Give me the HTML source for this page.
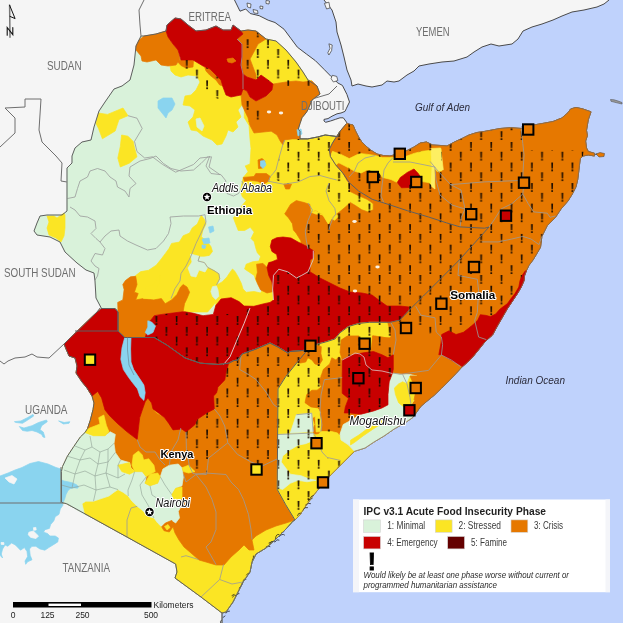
<!DOCTYPE html>
<html><head><meta charset="utf-8"><title>IPC v3.1 Acute Food Insecurity Phase - East Africa</title>
<style>
html,body{margin:0;padding:0;background:#bfd2fc;}
body{width:623px;height:623px;overflow:hidden;font-family:"Liberation Sans",sans-serif;}
svg{display:block}
</style></head><body>
<svg width="623" height="623" viewBox="0 0 623 623" font-family="Liberation Sans, sans-serif">
<rect width="623" height="623" fill="#bfd2fc"/>
<polygon fill="#f5f5f5" points="-5,-5 234,-5 234.5,0 240,11.2 245.7,9 250.2,13.5 259.2,15.7 268.2,20.2 275,22.5 284,29.2 290.7,38.2 297.4,47.2 306.4,54 315.4,60.7 324.4,69.7 331,76.4 337.9,83 342.4,85.4 346.9,94.4 349.5,102 348,105 346.5,108.2 345,111.4 341,113 337,113.8 332,116.2 328,118.6 324,119.4 324,121 325.7,122.3 330.5,121 335.3,119.4 340,117.8 343.3,117.8 345.7,121 347.4,123.5 347.4,123.5 349.8,124.3 353,125 355.4,130.7 358.6,137 361.8,142 365.8,146 370.6,150 377,154 383.5,155.6 390,156 394.7,154.8 405.6,151.3 414,147 420.2,143 426.5,142 432.7,145 441,145.5 447,146 454.4,142 462,138.5 469,135 477,132.5 484.6,131.4 500,128.5 510.6,127.7 522,128.5 533.5,125 544,123.2 553,121.5 561.8,118 568,112.7 570.6,109 576,107.4 583,109 591,111.8 588.3,119.7 586.5,130.3 587.4,135.6 585.6,141 586.5,148 588.3,151.5 594.5,153.3 594.5,156 588.3,155 583,156 580.3,158.6 579.4,165.6 578.6,172.7 577.7,179.7 576,186.8 572.4,193.9 568,201 561,209 555.5,217.3 547.3,225.5 541.9,236.4 540.5,247.3 536,255 533,260 529,265.3 526.5,270.4 524.6,275.5 524,280.7 521.3,287 517.5,293.5 512.4,301.2 507.2,309 502,318 497.6,325.6 492.5,335 485,341.7 479.2,349 473.5,356 467.7,362 462,367 456,373.5 449,380.7 441.7,388 434.5,395 427.2,401 420.8,406.4 413,417.3 403.8,423.6 394.4,428.8 384,436 373.5,442.3 365,448 354.4,451.3 343.7,462 331.5,474.2 320.8,486.4 313.2,495.5 305.6,506.2 299.5,515.4 295,520 293,521 286,529 276,539 266,548 256,554 252,562 250,572 243,582 238,592 233,602 226,612 222,613 222,623 222,630 -5,630" stroke="#4a4a4a" stroke-width="1"/>
<polygon fill="#f5f5f5" points="320,-5 324,0 332,10 336,22 337,32 341,45 344,57 347,70 351,80 352,86 358,84 366,86 372,87 382,85 387,81 394,82 399,81 407,75 414,71 419,66 429,64 442,62 454,61 467,57 474,52 482,47 491,44 499,46 512,44 518,39 523,31 532,27 542,24 553,20 562,16 572,12 584,10 597,7 604,4 609,0 612,-5" stroke="#4a4a4a" stroke-width="1"/>
<polygon fill="#8ad4ef" points="-3,477 0,476 8,473 15,470 22,467.5 30,463.5 38.5,461.5 48,464 56,467.5 61,469 61,482 67,484 75,486 80,482 85,479 88,483 80,488 72,492 67,499 62,500 62.9,503.3 62.9,505.3 60.3,509 59,514.3 55.2,516.8 53.9,520.7 50.7,524.5 49.4,528.4 44.9,529.7 43.6,532.2 47.5,533.5 50,536 55.2,536 58.4,538 57.8,541.9 53.9,544.4 48.8,547.6 44.9,550.2 39.8,548.9 35.9,546.3 32,546.3 29.5,548.9 30.2,555.3 32,559.8 27.6,561.8 25.7,564.3 25,561 27.6,556.6 27,551.5 24.4,547.6 20.5,550.2 15.4,545 11.6,543 7.7,546.3 5.1,545 2.6,549 1.3,554 2.6,558 0,555.3 -3,555" stroke="#8ad4ef" stroke-width="0.7"/>
<polygon fill="#8ad4ef" points="19.3,426.5 24,428 32,425.7 38.5,422.5 46.5,420 47.3,421.7 41.7,425.7 40,429.7 43.3,432 45,437.5 43,437 41.7,434.5 37,432 32,430.5 27.3,431.3 22.5,430.5" stroke="#8ad4ef" stroke-width="0.7"/>
<polygon fill="#8ad4ef" points="14.4,421.7 20.9,420.9 27.3,417.7 33,414.4 33.7,416 28.9,419.3 22.5,423.3 16,422.5" stroke="#8ad4ef" stroke-width="0.7"/>
<polygon fill="#8ad4ef" points="58.6,420.9 64.2,422.5 69.8,421.7 69,423.3 63.4,424" stroke="#8ad4ef" stroke-width="0.7"/>
<polygon fill="#f5f5f5" points="5,478 12,475.5 17,479 14,484 9,482" stroke="#f5f5f5" stroke-width="0.7"/>
<polygon fill="#f5f5f5" points="28.9,532.2 33.4,531 38.5,536 36,538.6 30.8,537.4 28.2,534.8" stroke="#f5f5f5" stroke-width="0.7"/>
<polygon fill="#f5f5f5" points="33.4,527.7 35.9,527.4 36.2,530 33.7,530.3" stroke="#f5f5f5" stroke-width="0.7"/>
<polygon fill="#f5f5f5" points="1,542.5 3.8,542.5 4,544.5 1.3,544.5" stroke="#f5f5f5" stroke-width="0.7"/>
<polyline fill="none" stroke="#6e6e6e" stroke-width="1" stroke-linejoin="round" points="145,-4 144,0 139,10 140,25 141,36" />
<polyline fill="none" stroke="#6e6e6e" stroke-width="1" stroke-linejoin="round" points="312,99 329,94 337,86" />
<polyline fill="none" stroke="#6e6e6e" stroke-width="1" stroke-linejoin="round" points="-4,151 0,147 15,133 15,118 5,108 25,107 25,99 41,99 39,130 42,142 50,150 56,156 62,163 61,181 67,182" />
<polyline fill="none" stroke="#6e6e6e" stroke-width="1" stroke-linejoin="round" points="-4,359 0,361 4,364 8,361 15,358 25,357 32,354 37,357 49,358 64,344 97,312 100,308" />
<polyline fill="none" stroke="#6e6e6e" stroke-width="1" stroke-linejoin="round" points="-4,503 62,503" />
<polyline fill="none" stroke="#6e6e6e" stroke-width="1" stroke-linejoin="round" points="61,467 61,503" />
<polyline fill="none" stroke="#6e6e6e" stroke-width="1" stroke-linejoin="round" points="62,503 66.6,503.7 127,537 175.7,564 177,572 175,578 201,597 222,613" />
<polygon fill="#d9f2da" points="141,36 144,36 156,34 166,31 167,25 175,18 181,19 188,25 196,31 206,30 216,26 223,30 231,30 233,25 241,31 248,30 256,31 266,39 276,41 286,50 296,62 303,72 308,80 317,86 320,94 312,100 307.8,110 306,112.9 302,117.7 300,123.5 298.2,129.3 300,131.2 300,138.9 307.8,138.9 317.5,137 325.2,135 333,136 337.7,136.7 339.8,131.5 332.5,143 329.4,149.2 330.4,156.5 335.7,164.9 343,173.2 349.2,182.6 358.6,191 372.2,199.3 389,204.6 407.7,210.8 428.6,217 446.4,222.8 460,226.9 484.6,228.2 489,227 471,247 459.3,260 441.4,278 423.4,296 409.3,310 404.8,315 399.6,320.2 390.2,322.3 379.8,322.3 369.3,322.3 358.9,323.4 348.5,326.5 340,332.7 334.9,339 325.5,342 317,344.2 308.8,349.4 302.5,350.5 290,351.5 288,353 278,347 270,343 256,349 242,354 238,360 233.8,360.6 228.7,363.2 218.4,364.5 200.4,363.2 185,358 167,345.2 154.2,337.5 124.7,337.5 118,331 118,312 115,308.5 101.5,308.5 96,298 95,281 94,273 86,270 77,263 65,252 60,242 50,237 37,235 34,231 37,223 40,216 47,215 62,215 67,211 67,182 67,168 72,163 72,156 75,148 82,142 91,140 94,127 99,111 105,102 114,89 122,86 130,80 134,65 136,46" stroke="#d9f2da" stroke-width="0.7"/>
<polygon fill="#fbe524" points="170,66 176,65 181,60 193,60 203,66 210,69 216,75 221,80 223,87 226,95 231,97 241,95 242,105 238,110 241,117 236,122 238,127 233,132 228,130 226,136 222,144 217,145 212,140 203,136 197,131 191,130 188,122 193,117 195,110 190,106 183,105 185,96 191,95 196,90 200,82 197,76 188,75 181,77 175,75 171,71" stroke="#fbe524" stroke-width="0.7"/>
<polygon fill="#fbe524" points="98.5,113 107.5,114.4 123,108 128,115.7 119,119.5 115.2,131 102.4,138.8 98.5,128.5 96,123.4" stroke="#fbe524" stroke-width="0.7"/>
<polygon fill="#fbe524" points="121.6,135 128,136.2 133.2,141.4 134.5,147.8 137,156.8 129.3,163.2 120.3,167 117.8,158 120.3,146.5" stroke="#fbe524" stroke-width="0.7"/>
<polygon fill="#d9f2da" points="196,119 200,118 204,126 202,131 197,127" stroke="#d9f2da" stroke-width="0.7"/>
<polygon fill="#fbe524" points="47,216 54,216 57,218 64,213 65,215 65,228 64,236 61,242 56,238 49,235 47,228 49,222" stroke="#fbe524" stroke-width="0.7"/>
<polygon fill="#fbe524" points="266,39 276,41 286,50 296,62 303,72 308,80 312,81 303,82 296,81 286,82 273,84 268,80 261,75 256,80 256,75 253,67 250,59 255,50 258,44" stroke="#fbe524" stroke-width="0.7"/>
<polygon fill="#fbe524" points="244.3,110 248,117.7 250,125.4 254,133 263.5,132 271.2,131.2 277,135 280,140.8 282.8,144.7 284.7,139.9 292.4,138.9 300,138.9 307.8,138.9 317.5,137 325.2,135 333,136 337.7,136.7 339.8,131.5 332.5,143 329.4,149.2 330.4,156.5 335.7,164.9 343,173.2 347,180.5 350.3,184.7 349.2,191 357.6,195.2 367,199.3 373.2,203.5 373.2,209.8 368,211.9 361.8,209.8 355.5,205.6 350.3,202.5 346,207.7 345,212.9 338.8,216 334.6,220.2 329.4,224.4 324.2,216 320,214 312,212 312,320 215.7,310 215.7,299.5 212.5,296.3 210.9,291.5 212.5,286.7 216.5,285 222.1,281.9 226.9,277 230.1,272.2 232.5,269 235,271.4 238.2,277 241.4,283.5 243,289 246.2,292.3 254.2,291.5 260.6,293 262.2,289.9 259,285 255.8,280.3 254.2,275.4 249.4,272.2 244.6,269 246.2,264.2 252.6,261.8 259,261 260.6,256.2 257.4,253 255.8,248.2 254.2,241.7 251,238.5 254.2,232.1 250.2,227.3 244.6,230.5 238.2,230.5 235.7,224 233.3,217.7 236.5,215.2 241.4,206.4 246.2,200.6 242.3,196.7 240.4,191 242.3,181.3 243.3,177.4 248,171.7 245.2,165.9 250,164 251,148.5 250,138.9 249,125.4 244.3,117.7" stroke="#fbe524" stroke-width="0.7"/>
<polygon fill="#fbe524" points="135.7,275.5 140.8,271.6 148.5,270.3 156.2,265.2 161.4,258.8 165.2,253.7 169,248.5 171.6,243.4 179.3,242.1 183.2,235.7 189.6,233.1 192.2,228 197.3,224.1 201.2,215.2 204.4,219.3 206,224 202.8,230.5 201.2,237 206,240 210.9,246.5 212.5,251.4 209.3,255.4 204.4,256.2 199.6,256.2 198,261 204.4,262.6 207.7,267.4 214,270.6 218.9,273.8 219.7,278.7 216.5,285 212.5,286.7 210.9,291.5 212.5,296.3 215.7,299.5 217.9,299.9 207.6,312 130,312 125,290" stroke="#fbe524" stroke-width="0.7"/>
<polygon fill="#d9f2da" points="190.5,254 199,256.2 198,261 204.4,262.6 207.7,267.4 205,272 199,270 196,277 191,276 188,268 192,262" stroke="#d9f2da" stroke-width="0.7"/>
<polygon fill="#e67800" points="136,46 139,40 144,36 156,34 166,31 168,37 173,44 178,50 180,59 176,65 168,66 161,65 156,60 147,62 142,61 141,56 136,50" stroke="#e67800" stroke-width="0.7"/>
<polygon fill="#e67800" points="273,84 286,82 296,81 303,82 312,81 317,86 320,94 312,100 307.8,110 306,112.9 302,117.7 300,123.5 298.2,129.3 300,131.2 300,138.9 292.4,138.9 284.7,139.9 282.8,144.7 280,140.8 277,135 271.2,131.2 263.5,132 254,133 250,125.4 248,117.7 244.3,110 242,105 241,95 243,89 247,91 250,97 256,101 266,96 272,90" stroke="#e67800" stroke-width="0.7"/>
<polygon fill="#e67800" points="241,31 248,30 256,31 266,39 258,44 255,50 250,59 253,67 256,75 256,80 247,77 243,74 241,65 242,57 242,44 237,39 243,34" stroke="#e67800" stroke-width="0.7"/>
<polygon fill="#e67800" points="256.6,264.2 263,263.4 267,267.4 268.7,275.4 271.9,281.9 273.5,291.5 267,293 260.6,289.9 257.4,283.5 255.8,278.7 257.4,272.2" stroke="#e67800" stroke-width="0.7"/>
<polygon fill="#e67800" points="243.3,177.4 254,176.5 255.8,173.6 266.4,173.6 270.3,176.5 268.4,181.3 263.5,184.2 257.8,181.3 250,180.3 244.3,181.3" stroke="#e67800" stroke-width="0.7"/>
<polygon fill="#e67800" points="283.8,184.2 291.5,184.2 289.5,189 285.7,189" stroke="#e67800" stroke-width="0.7"/>
<polygon fill="#e67800" points="258,160 262,158.5 265,161 263,168 258.5,168.5" stroke="#e67800" stroke-width="0.7"/>
<polygon fill="#8ad4ef" points="260.5,161 264.5,160.5 266,165 263,168.5 260.5,166" stroke="#8ad4ef" stroke-width="0.7"/>
<polygon fill="#e67800" points="125.4,280.6 130.5,276.8 135.7,276.3 137,284.5 134.4,292.2 138.2,293.5 135.7,299.9 143.4,298.6 153.7,299.9 161.4,298.6 165.2,303.7 171.6,299.9 176.8,294.7 180.6,287 183.2,284.5 187,287 189.6,292.2 187,298.6 184.5,303.7 183.2,311.4 172.2,313.1 161.9,314.4 154.2,315.7 150.3,320.8 147.8,328.5 145.2,337.5 124.7,337.5 118,331 118,312 117.7,302.4 122.8,299.9 124.1,289.6 122.8,284.5" stroke="#e67800" stroke-width="0.7"/>
<polygon fill="#fbe524" points="143.4,298.6 146,287 153.7,284.5 157.5,276.8 160,275.5 160,282 156.2,289.6 155,298.6" stroke="#fbe524" stroke-width="0.7"/>
<polygon fill="#e67800" points="284.7,214 290.5,204.4 296.3,200.6 304,202.5 309.8,204.4 310.7,212 316,211 323,215.3 328.3,224 331.8,218 336.2,214.4 340.6,211 346,206.5 350.3,202.5 355.5,205.6 361.8,209.8 368,211.9 373.2,209.8 373.2,203.5 372.2,199.3 389,204.6 407.7,210.8 428.6,217 446.4,222.8 460,226.9 484.6,228.2 489,227 471,247 459.3,260 441.4,278 423.4,296 409.3,310 380,312 312,290 300,250 301,241 296,233 293.4,230 292.4,223.7 288.6,217.9" stroke="#e67800" stroke-width="0.7"/>
<polygon fill="#e67800" points="343,173.2 349.2,182.6 358.6,191 372.2,199.3 373.2,203.5 367,199.3 357.6,195.2 349.2,191 350.3,184.7 347,180.5" stroke="#e67800" stroke-width="0.7"/>
<polygon fill="#e67800" points="177,61 181,59.5 193.5,60.5 193,67 186,68 181,65.5" stroke="#e67800" stroke-width="0.7"/>
<polygon fill="#e67800" points="204.7,67 209.7,68.7 216,75 221.5,80 223.5,86 219.7,85 216,80 209.7,75 206,71" stroke="#e67800" stroke-width="0.7"/>
<polygon fill="#d9f2da" points="212.5,286.7 210.9,291.5 212.5,296.3 215.7,299.5 218.9,296.3 218,290 216.5,286" stroke="#d9f2da" stroke-width="0.7"/>
<polygon fill="#fbe524" points="310.7,212 316,211 323,215.3 328.3,224 331.8,218 336.2,214.4 338.8,216 334.6,220.2 330,217.9 325.2,215 315.6,214" stroke="#fbe524" stroke-width="0.7"/>
<polygon fill="#c80000" points="166,31 167,25 175,18 181,19 188,25 196,31 206,30 216,26 223,30 231,30 233,25 241,31 243,34 237,39 242,44 242,57 241,65 243,74 247,77 256,80 261,75 268,80 273,84 272,90 266,96 256,101 250,97 247,91 243,89 241,95 231,97 226,95 223,87 221,80 216,75 210,69 203,66 193,60 181,60 178,50 173,44 168,37" stroke="#c80000" stroke-width="0.7"/>
<polygon fill="#e67800" points="227,59 233,58 236,61 232,63 228,62" stroke="#e67800" stroke-width="0.7"/>
<polygon fill="#c80000" points="270.3,246.5 271.9,240 276.7,237.7 283,237 291,238 298,242 306,246 314,251 313,258 310,260 310,272 312,273 320,278 330,283 340,288 350,292 362,293 372,295 380,301 387,306 400,306 409,307 407,315 404.8,315 399.6,320.2 390.2,322.3 379.8,322.3 369.3,322.3 358.9,323.4 348.5,326.5 340,332.7 334.9,339 325.5,342 317,344.2 308.8,349.4 302.5,350.5 290,351.5 288,353 278,347 270,343 256,349 242,354 238,360 233.8,360.6 228.7,363.2 218.4,364.5 200.4,363.2 185,358 167,345.2 154.2,337.5 145.2,337.5 147.8,328.5 150.3,320.8 154.2,315.7 161.9,314.4 172.2,313.1 182.4,311.8 185,311.8 192.7,313.1 203,315.7 213.3,314.4 215.8,305.4 221,299 231.2,297.7 239,301.6 244.1,306 253.8,306.3 264.1,303.7 270,302.4 273.5,300 273.5,291.5 271.9,281.9 268.7,275.4 267,267.4 268.7,262.6 271.9,261.8 277.5,259.4 276.7,254.6 271.9,251.4" stroke="#c80000" stroke-width="0.7"/>
<polygon fill="#8ad4ef" points="158,101 163,98 172,98 175,104 172,110 168,113 166,118 162,113 158,108" stroke="#8ad4ef" stroke-width="0.7"/>
<polygon fill="#8ad4ef" points="208.5,227 213,226 214,231 210,233" stroke="#8ad4ef" stroke-width="0.7"/>
<polygon fill="#8ad4ef" points="202,239 209,238 210,243 204,244" stroke="#8ad4ef" stroke-width="0.7"/>
<polygon fill="#8ad4ef" points="202,245 206,245.5 205,248.5 202,248" stroke="#8ad4ef" stroke-width="0.7"/>
<polygon fill="#8ad4ef" points="147.8,320.8 151.6,322 155.5,326 153,332.5 147.8,335 145.2,332.5 147.8,327" stroke="#8ad4ef" stroke-width="0.7"/>
<polygon fill="#8ad4ef" points="297,129.5 301,129 302,134 298,136" stroke="#8ad4ef" stroke-width="0.7"/>
<polygon fill="#fbe524" points="101.5,308.5 115,308.5 118,312 118,331 124.7,337.5 154.2,337.5 167,345.2 185,358 200.4,363.2 218.4,364.5 228.7,363.2 233.8,360.6 238,360 242,354 256,349 270,343 278,347 288,353 290,351.5 302.5,350.5 305.6,352.2 298,361.3 285.7,376.6 278,388.8 277.2,489.4 285.7,504.7 295,520 293,521 286,529 276,539 266,548 256,554 252,562 250,572 243,582 238,592 233,602 226,612 222,613 201,597 175,578 177,572 175.7,564 127,537 66.6,503.7 61.4,502.4 61.4,471.6 62.5,466.5 67.4,456.2 73.8,446.5 80.3,437 85,432.5 87.5,428.5 90.2,420.5 93,409.6 94,403 92,396 87,388 82,382 76,373 77,366 75,358 69,356 66,349 64,344 97,312" stroke="#fbe524" stroke-width="0.7"/>
<polygon fill="#e67800" points="93,409.6 94,403 92,396 87,388 100,380 112,400 110.2,416.4 118,424 127,431.8 137.2,439.5 138.5,428 139.7,417.7 142.3,410 145.2,401.7 147.8,397.9 151.6,403 154.2,410.7 157.7,413.9 165.4,417.7 173,422.8 180.8,428 188.5,426.7 195,422.8 201.4,415 204,410 210.7,403 213.3,395.3 218.4,387.6 224.8,379.9 226.1,372.2 228.7,363.2 233.8,360.6 238,360 242,354 256,349 270,343 278,347 288,353 290,351.5 302.5,350.5 305.6,352.2 298,361.3 285.7,376.6 278,388.8 277.2,489.4 285.7,504.7 295,520 286,523 276,526 266,530 256,536 252,540 254,550 249,550 244,545 239,550 231,557 224,565 216,565 206,562 199,560 191,553 184,547 179,540 175,533 173,526.8 160,500 140,480 115,460 100,437 89.7,428 87.5,428.5 90.2,420.5" stroke="#e67800" stroke-width="0.7"/>
<polygon fill="#d9f2da" points="61.4,471.6 62.5,466.5 67.4,456.2 73.8,446.5 80.3,437 85,432.5 93.5,435.7 105,435.7 110.2,431.8 115.3,434.4 114,443.4 115.3,452.4 120.5,460 129.5,462.6 130.8,467.8 134.6,471.6 142.3,471.6 146.2,476.8 144.9,483.2 150,485.8 157.7,483.2 160.3,476.8 162.9,469 169.3,465.2 178.3,464 182,467.8 183.4,476.8 182,485.8 175.7,488.3 171.8,494.7 174.4,499.9 180.8,498.6 182,505 178.3,511.4 179.5,517.9 175.7,523 171.8,520.4 165.4,523 161.6,526.8 157.7,523 153.9,517.9 148.7,516.6 142.3,510.2 137.2,506.3 132,501.2 128.2,496 123,492.2 118,489.6 114,492.2 109,496 101.2,498.6 93.5,501.2 85.8,501.2 82,503.7 84.5,514.5 66.6,503.7 61.4,502.4" stroke="#d9f2da" stroke-width="0.7"/>
<polygon fill="#fbe524" points="133.3,455 138.5,451 142.3,455 143.6,460 148.7,458.8 153.9,465.2 155.2,471.6 150,474.2 146.2,476.8 142.3,471.6 134.6,471.6 132,465.2" stroke="#fbe524" stroke-width="0.7"/>
<polygon fill="#fbe524" points="118,465.2 129.5,462.6 130.8,467.8 134.6,471.6 129.5,474.2 121.8,471.6" stroke="#fbe524" stroke-width="0.7"/>
<polygon fill="#fbe524" points="144.9,483.2 150,474.2 157.7,473 160.3,476.8 157.7,483.2 150,485.8" stroke="#fbe524" stroke-width="0.7"/>
<polygon fill="#fbe524" points="182,467.8 188.5,465.2 195,471.6 188.5,473 183.4,471.6" stroke="#fbe524" stroke-width="0.7"/>
<polygon fill="#fbe524" points="171.8,494.7 175.7,488.3 182,487 182,498.6 174.4,499.9" stroke="#fbe524" stroke-width="0.7"/>
<polygon fill="#fbe524" points="89.7,428 100,424 98.7,417.7 103.8,415 106.4,425.4 109,431.8 105,435.7 93.5,435.7 85,432.5" stroke="#fbe524" stroke-width="0.7"/>
<polygon fill="#e67800" points="161.6,526.8 165.4,523 171.8,520.4 173,526.8 169.3,532 164,530.7" stroke="#e67800" stroke-width="0.7"/>
<polygon fill="#fbe524" points="164.5,526.5 168,524.5 170,527.5 167,530" stroke="#fbe524" stroke-width="0.7"/>
<polygon fill="#8ad4ef" points="61.7,480 64,481 69,482 72.8,483 76.6,484.8 78.5,486.7 77.6,488.2 73.7,487.7 70,488.7 68,490.6 66,494.5 64.6,499.3 63,502.6 61.7,502.6" stroke="#8ad4ef" stroke-width="0.7"/>
<polygon fill="#c80000" points="101.5,308.5 115,308.5 118,312 118,331 124.7,337.5 154.2,337.5 167,345.2 185,358 200.4,363.2 218.4,364.5 228.7,363.2 226.1,372.2 224.8,379.9 218,387.2 216.5,393 213.6,395.9 214.3,408.9 206.4,413.2 197.7,419 194.8,424.8 186,432 181.8,429 173,429.9 168.8,423.4 164.5,417.6 158.7,413.2 153,408.9 151.6,403 147.8,397.9 145.2,401.7 142.3,410 139.7,417.7 138.5,428 137.2,439.5 127,431.8 118,424 110.2,416.4 105,410 101.6,397.9 97.7,391.4 92,396 87,388 82,382 76,373 77,366 75,358 69,356 66,349 64,344 97,312" stroke="#c80000" stroke-width="0.7"/>
<polygon fill="#8ad4ef" points="124.7,337.5 131,337.5 130.6,349 131,362 133.7,369.6 138.8,377.3 143.9,385 145.2,392.7 143.9,400.4 140,396.6 137.5,388.9 132.4,382.5 128.5,377.3 123.4,369.6 120.8,359.3 122,347.8" stroke="#8ad4ef" stroke-width="0.7"/>
<polygon fill="#e67800" points="346.5,123.5 347.4,123.5 349.8,124.3 353,125 355.4,130.7 358.6,137 361.8,142 365.8,146 370.6,150 377,154 383.5,155.6 390,156 394.7,154.8 405.6,151.3 414,147 420.2,143 426.5,142 432.7,145 441,145.5 447,146 454.4,142 462,138.5 469,135 477,132.5 484.6,131.4 500,128.5 510.6,127.7 522,128.5 533.5,125 544,123.2 553,121.5 561.8,118 568,112.7 570.6,109 576,107.4 583,109 591,111.8 588.3,119.7 586.5,130.3 587.4,135.6 585.6,141 586.5,148 588.3,151.5 594.5,153.3 594.5,156 588.3,155 583,156 580.3,158.6 579.4,165.6 578.6,172.7 577.7,179.7 576,186.8 572.4,193.9 568,201 561,209 555.5,217.3 547.3,225.5 541.9,236.4 540.5,247.3 536,255 533,260 529,265.3 526.5,270.4 524.6,275.5 524,280.7 521.3,287 517.5,293.5 512.4,301.2 507.2,309 502,318 497.6,325.6 492.5,335 485,341.7 479.2,349 473.5,356 467.7,362 462,367 456,373.5 449,380.7 441.7,388 434.5,395 427.2,401 420.8,406.4 413,417.3 403.8,423.6 394.4,428.8 384,436 373.5,442.3 365,448 354.4,451.3 343.7,462 331.5,474.2 320.8,486.4 313.2,495.5 305.6,506.2 299.5,515.4 295,520 285.7,504.7 277.2,489.4 278,388.8 285.7,376.6 298,361.3 305.6,352.2 302.5,350.5 308.8,349.4 317,344.2 325.5,342 334.9,339 340,332.7 348.5,326.5 358.9,323.4 369.3,322.3 379.8,322.3 390.2,322.3 399.6,320.2 404.8,315 409.3,310 423.4,296 441.4,278 459.3,260 471,247 489,227 484.6,228.2 460,226.9 446.4,222.8 428.6,217 407.7,210.8 389,204.6 372.2,199.3 358.6,191 349.2,182.6 343,173.2 335.7,164.9 330.4,156.5 329.4,149.2 332.5,143 339.8,131.5" stroke="#e67800" stroke-width="0.7"/>
<polygon fill="#fbe524" points="332.5,151.3 340.9,154.4 349.2,158.6 359.7,153.4 368,154.4 375.3,155.5 382.6,157.6 393,157.6 405.6,156.5 414,153.4 422.3,151.3 430.6,150.3 441,149.2 441.5,171 437,171.5 434.8,167 433.8,187.8 428.6,182.6 422.3,181.6 409.8,184.7 401.4,186.8 397.2,182.6 391,179.5 382.6,177.4 378.5,172.2 367,170 360.7,173.2 354.4,171 347,167 338.8,162.8 335.7,164.9 330.4,156.5" stroke="#fbe524" stroke-width="0.7"/>
<polygon fill="#fdef62" points="431,148.5 440.7,148 443.3,169.7 438.8,171 434,168.5 435,189 431,186 432,168" stroke="#fdef62" stroke-width="0.7"/>
<polygon fill="#c80000" points="397.2,182.6 400.4,177.4 407.7,172.2 414,169 418,173.2 420.2,176.4 420.2,187 401.4,187.8" stroke="#c80000" stroke-width="0.7"/>
<polygon fill="#fbe524" points="305.6,352.2 308.8,349.4 317,344.2 325.5,342 334.9,339 340,332.7 348.5,326.5 358.9,323.4 369.3,322.3 379.8,322.3 387,322.5 388,326 390.2,337 381,337 372.5,335 371.5,349 359,349 358.9,336 347.5,336 341,340 342.2,360 342.2,393.3 348.5,398.5 344.3,413 352.6,419.4 343.2,424.6 340,434 341,440 348.5,445 354.4,451.3 343.7,462 331.5,474.2 320.8,486.4 313.2,495.5 305.6,506.2 299.5,515.4 295,520 285.7,504.7 277.2,489.4 278,388.8 285.7,376.6 298,361.3" stroke="#fbe524" stroke-width="0.7"/>
<polygon fill="#e67800" points="290,352.2 302.5,350.9 308.8,349.4 317.1,345.3 321.3,346.7 320.9,353.6 322.4,359.9 319.2,365.1 315,364 311.9,359.9 307.8,357.8 305.7,362 300.4,363 295.2,362" stroke="#e67800" stroke-width="0.7"/>
<polygon fill="#e67800" points="324.4,379.7 342.2,377.6 342.2,393.3 348.5,398.5 345.3,406.9 344.3,413 361,414.2 352.6,419.4 343.2,424.6 340,434 331.8,438.2 324.4,433 315,434 311.9,430.9 315,424.6 313,418.3 321.3,413 318.2,407.9 310.9,406.9 305,402.7 306.7,394.6 311.9,390.2 317.1,390.2 321.3,387 319.2,381.8 321.3,375.5" stroke="#e67800" stroke-width="0.7"/>
<polygon fill="#e67800" points="321.3,375.5 323.4,369.3 329.7,364 331.8,357.8 335.9,359.9 339.1,356.8 341.2,359.9 342.2,377.6 324.4,379.7" stroke="#e67800" stroke-width="0.7"/>
<polygon fill="#fbe524" points="314.7,410 318,409 321,420 320.8,431.5 316.2,432" stroke="#fbe524" stroke-width="0.7"/>
<polygon fill="#e67800" points="341.2,340 347.4,335.9 358.9,335.9 358.9,348.4 371.4,348.4 372.5,335.9 381.9,336.9 390.2,339 392.3,346.3 393.3,353.6 388,357.8 381.9,354.7 373.5,351.5 365,352.6 358.9,353.6 350.5,355.7 342.2,360 340,352.6" stroke="#e67800" stroke-width="0.7"/>
<polygon fill="#d9f2da" points="296.4,414.7 311.7,413.2 313.2,431.5 290.3,433" stroke="#d9f2da" stroke-width="0.7"/>
<polygon fill="#d9f2da" points="278,434.5 313.2,433 313.2,440.6 305.6,443.7 298,445.2 290.3,449.8 282.7,455.9 281.2,462 285.7,468 290.3,474.2 301,475.7 308.6,478.8 316.2,480.3 307,481.8 298,480.3 290.3,483.3 282.7,489.4 278,488" stroke="#d9f2da" stroke-width="0.7"/>
<polygon fill="#fbe524" points="316.2,437.6 320.8,431.5 331.5,431.5 337.6,433 342.2,440.6 349.8,451.3 340.6,460.5 331.5,462 327,457.4 325.4,446.7 322.3,440.6" stroke="#fbe524" stroke-width="0.7"/>
<polygon fill="#d9f2da" points="393.3,373.5 402.7,374.5 410,374.5 417,376 416,390 414,400 411,404.8 413,417.3 403.8,423.6 394.4,428.8 384,436 373.5,442.3 365,448 354.4,451.3 348.5,445 341,440 340,434 343.2,424.6 352.6,419.4 361,414.2 373.5,411 381.9,408 388,404.8 388,394.3 389.2,381.8 392.3,373.5" stroke="#d9f2da" stroke-width="0.7"/>
<polygon fill="#fbe524" points="402.7,381.8 407,383.9 410,376 417,376 416,390 414,400 411,404.8 403.8,406.9 398.6,402.7 395.4,394.3 394.4,388 398.6,383.9" stroke="#fbe524" stroke-width="0.7"/>
<polygon fill="#fbe524" points="350.5,440.2 358.9,435 367.2,428.8 377.7,422.5 382.9,419.4 381.9,423.6 373.5,428.8 363,436 354.7,442.3 350.5,445" stroke="#fbe524" stroke-width="0.7"/>
<polygon fill="#e67800" points="410,376 417,376 423,376 420,395 414,400 416,390" stroke="#e67800" stroke-width="0.7"/>
<polygon fill="#c80000" points="342.2,360 350.5,355.7 358.9,353.6 365,352.6 373.5,351.5 381.9,354.7 388,357.8 393.3,354.7 393.3,369.3 392.3,373.5 389.2,381.8 388,394.3 388,404.8 381.9,408 373.5,411 361,414.2 350.5,413 344.3,413 345.3,406.9 348.5,398.5 342.2,393.3 342.2,377.6" stroke="#c80000" stroke-width="0.7"/>
<polygon fill="#c80000" points="525.2,271 522,275.5 520,280.7 518.8,287 515,293.5 511,298.6 507.2,303.8 502,307.6 499.5,309.6 495.7,314 490.5,316.6 485.4,315.3 480.3,314.7 477.8,320 473.5,324.3 469,328 463.4,332.3 456,334.5 449,330.8 441.7,334.5 441,343 438.8,354.7 441.7,354.7 462,366.2 462,367 467.7,362 473.5,356 479.2,349 485,341.7 492.5,335 497.6,325.6 502,318 507.2,309 512.4,301.2 517.5,293.5 521.3,287 524,280.7 524.6,275.5 526.5,270.4" stroke="#c80000" stroke-width="0.7"/>
<polygon fill="#f5f5f5" points="324.4,3.4 328.9,2.2 330,7.9 326.6,9" stroke="#3a3a3a" stroke-width="0.7"/>
<polygon fill="#f5f5f5" points="328.9,43.8 332.2,45 331.6,50.6 328.9,55 327.8,52.8 330,48.3" stroke="#3a3a3a" stroke-width="0.7"/>
<polygon fill="#f5f5f5" points="332.2,75.3 336.7,76.4 337.9,80.5 333.4,82 331.1,78.7" stroke="#3a3a3a" stroke-width="0.7"/>
<polygon fill="#f5f5f5" points="247,3 251,4 250.5,8 247.5,7" stroke="#3a3a3a" stroke-width="0.7"/>
<polygon fill="#f5f5f5" points="253,9.5 257.5,10.5 258,13.5 254,13" stroke="#3a3a3a" stroke-width="0.7"/>
<polygon fill="#f5f5f5" points="266,0.5 269.5,1 269,4 266,3.5" stroke="#3a3a3a" stroke-width="0.7"/>
<polygon fill="#f5f5f5" points="260,6 263,6.5 262.5,9 260,8.5" stroke="#3a3a3a" stroke-width="0.7"/>
<polygon fill="#e67800" points="596,154 600,152.5 604.5,153.5 604,156.5 599,157" stroke="#5a4a3a" stroke-width="0.6"/>
<polyline fill="none" stroke="#555" stroke-width="1.2" stroke-linejoin="round" points="594.5,154.5 597,154" />
<polygon fill="#9a9a9a" points="610.5,99.5 614,99.8 618,101 622,102.5 622,104 616,102.6 611,101.3" stroke="#555" stroke-width="0.6"/>
<g fill="none" stroke="#1e1e1e" stroke-width="0.75" stroke-linecap="round"><path d="M303,510 q1.5,-3.5 4.5,-2.5 M305.5,505 q2.5,-3 5,-1.5 M308,501 q2,-3 4,-2.5 M310.5,497.5 q1,-2 3,-2 M301,513 q-3,-0.5 -3.5,2.5"/><path d="M269.5,544.5 q2,-4.5 5.5,-2.5 q1.5,-3.5 4,-2 M275.5,538.5 q0.5,-5 3.5,-4 M279.5,536.5 q2.5,-3.5 5,-1.5 M272.5,541.5 l-3.5,1.5 M281.5,533 l2.5,-1.5 M266,547 q2,-2 4,-0.5"/><path d="M232.5,597 q2,-3 4,-1.5 q1,-2.5 2.5,-2 M234,594.5 l-2,1"/><path d="M239.5,588 q2.5,-2.5 3,-5 M243,580.5 q1.5,-2 3,-1.5 M246.5,575 q1.5,-2.5 2.5,-2"/><path d="M252.5,560 q1.5,-2 1,-4 M226,613 q2,-2.5 3.5,-2 M223,617.5 l2,-1.5 M221.5,620 q-1.5,1 -1,3"/></g>
<defs><pattern id="hx" x="19.425" y="17.765" width="20.300" height="20.540" patternUnits="userSpaceOnUse"><text x="5.075" y="9.5" text-anchor="middle" font-size="12.5" font-weight="bold" fill="#1c0c00">!</text><text x="15.225" y="19.77" text-anchor="middle" font-size="12.5" font-weight="bold" fill="#1c0c00">!</text></pattern></defs>
<polygon fill="url(#hx)" points="241,31 248,30 256,31 266,39 276,41 286,50 296,62 303,72 308,80 312,81 312,86 303,85.5 296,85.5 286,86 273,86 268,80 261,75 256,80 247,77 243,74 241,65 242,57 242,44 237,39 243,34"/>
<polygon fill="url(#hx)" points="241,95 243,89 247,91 250,97 256,101 262,110 260,122 252,129 248,120 245,114 242,105"/>
<polygon fill="url(#hx)" points="284.7,139.9 292.4,138.9 300,138.9 317.5,137 333,136 337.7,136.7 339.8,131.5 332.5,143 329.4,149.2 330.4,156.5 335.7,164.9 343,173.2 349.2,182.6 358.6,191 372.2,199.3 389,204.6 407.7,210.8 428.6,217 446.4,222.8 460,226.9 484.6,228.2 489,227 471,247 459.3,260 441.4,278 423.4,296 409.3,310 404.8,315 399.6,320.2 390.2,322.3 379.8,322.3 369.3,322.3 358.9,323.4 348.5,326.5 340,332.7 334.9,339 325.5,342 317,344.2 308.8,349.4 302.5,350.5 290,351.5 288,353 278,347 270,343 256,349 242,354 238,360 233.8,360.6 228.7,363.2 218.4,364.5 200.4,363.2 185,358 167,345.2 154.2,337.5 152,330 153,322 155,316 161.9,314.4 172.2,313.1 182.4,311.8 192.7,313.1 203,315.7 213.3,314.4 225,314 245,314 247,309.5 253.8,306.3 264.1,303.7 270,302.4 275,300 272.6,290 273.5,275.3 278.8,269.2 287.7,271.8 296.5,278 301.8,275.3 308,271.8 313.3,259.4 313.3,250.6 308,248.9 306.2,240 305.3,231.2 308,220.6 312.4,210 316,211 323,215.3 328.3,224 331.8,218 335.8,214 334.8,208.3 329,200.6 326,191 329,183 329,178 320,175.5 310,176.5 298,182 283.8,184.2 270.3,176.5 273,173.6 276,169.7 279,158 282.8,144.7"/>
<polygon fill="url(#hx)" points="181,60 193,60 203,66 210,69 216,75 221,80 223,87 226,95 222,100 212,97 205,90 196,82 186,72 181,66"/>
<polygon fill="url(#hx)" points="228.7,363.2 233.8,360.6 238,360 242,354 256,349 270,343 278,347 288,353 302.5,350.5 305.6,352.2 298,361.3 285.7,376.6 278,388.8 277.2,459 262.5,465.9 251,462 237.4,454.3 227.8,442.8 208.5,458.2 207.6,465.9 206.6,474.5 193,473.6 189.3,465.9 186.4,448.5 185.4,432 186,432 194.8,424.8 197.7,419 206.4,413.2 214.3,408.9 213.6,395.9 216.5,393 218,387.2 224.8,379.9 226.1,372.2"/>
<polygon fill="url(#hx)" points="339.8,131.5 346.5,123.5 349.8,124.3 353,125 355.4,130.7 358.6,137 361.8,142 365.8,146 370.6,150 377,154 382.6,156.5 382.6,157.6 375.3,155.5 368,154.4 359.7,153.4 349.2,158.6 340.9,154.4 332.5,151.3 330.4,156.5 329.4,149.2 332.5,143"/>
<polygon fill="url(#hx)" points="335.7,164.9 338.8,162.8 347,167 354.4,171 360.7,173.2 367,170 378.5,172.2 382.6,177.4 391,179.5 397.2,182.6 401.4,186.8 409.8,184.7 422.3,181.6 428.6,182.6 433.8,187.8 434.8,171 441.5,171 441,149.2 430.6,150.3 422.3,151.3 414,153.4 405.6,156.5 405.6,151.3 414,147 420.2,143 426.5,142 432.7,145 441,145.5 447,146 454.4,142 462,138.5 469,135 477,132.5 484.6,131.4 500,128.5 510.6,127.7 521.4,128.4 521.4,130 522.8,143.7 523.5,150.5 584,150.5 583,156 580.3,158.6 579.4,165.6 578.6,172.7 577.7,179.7 576,186.8 572.4,193.9 568,201 561,209 555.5,217.3 547.3,225.5 541.9,236.4 540.5,247.3 536,255 533,260 529,265.3 526.5,270.4 525.2,271 522,275.5 520,280.7 518.8,287 515,293.5 511,298.6 507.2,303.8 502,307.6 499.5,309.6 495.7,314 490.5,316.6 485.4,315.3 480.3,314.7 477.8,320 473.5,324.3 469,328 463.4,332.3 456,334.5 449,330.8 441.7,334.5 436.2,332 435,317.8 420.8,315.2 415.7,306.2 409.3,310 423.4,296 441.4,278 459.3,260 471,247 489,227 484.6,228.2 460,226.9 446.4,222.8 428.6,217 407.7,210.8 389,204.6 372.2,199.3 358.6,191 349.2,182.6 343,173.2"/>
<polygon fill="url(#hx)" points="305.6,352.2 302.5,350.5 308.8,349.4 317,344.2 325.5,342 334.9,339 340,332.7 348.5,326.5 358.9,323.4 369.3,322.3 379.8,322.3 390.2,322.3 399.6,320.2 404.8,315 409.3,310 415.7,306.2 420.8,315.2 435,317.8 436.2,332 425,335 418,333 415,322 405,322 398,324 393.3,354.7 393.3,369.3 392.3,373.5 389.2,381.8 388,394.3 388,404.8 381.9,408 373.5,411 361,414.2 352.6,419.4 343.2,424.6 340,434 331.5,431.5 320.8,431.5 316.2,437.6 322.3,440.6 325.4,446.7 327,457.4 331.5,462 340.6,460.5 343.7,462 331.5,474.2 320.8,486.4 313.2,495.5 305.6,506.2 299.5,515.4 295,520 285.7,504.7 277.2,489.4 278,388.8 285.7,376.6 298,361.3"/>
<polyline fill="none" stroke="#9a9a9a" stroke-width="0.8" stroke-linejoin="round" points="67.5,198.5 75,197 77.5,188.5 80,181 87.5,177 90,171 97.5,168.5 105,171 110,177 116,181 117.5,187 125,191 129,197 130,188.5 136,183.5 129,176 130,167 140,161 150,158.5 156,156 163.5,163.5 171,168.5 181,171 193.5,170 201,163.5 206,158.5 208.5,156" />
<polyline fill="none" stroke="#9a9a9a" stroke-width="0.8" stroke-linejoin="round" points="70,207 75,210 80,216 87.5,217 95,221 96,228.5 91,233.5 96,238.5 100,242 105,248.5 102.5,255 95,253.5 91,261 95,266 99,268.5 97.5,276 95,280" />
<polyline fill="none" stroke="#9a9a9a" stroke-width="0.8" stroke-linejoin="round" points="100,242 105,236 111,231 119,230 120,236 127.5,241 136,245 147.5,250 156,248.5 163.5,241 168.5,233.5 171,223.5 170,217 183.5,216 198.5,216 205,214.7 206,222 202,231 196,243.5 191,256 186,266 181,273.5 180,281 175,288.5 171,298.5" />
<polyline fill="none" stroke="#9a9a9a" stroke-width="0.8" stroke-linejoin="round" points="128,115.7 137,118.2 142.2,128.5 134.5,141.4 137,151.6 144.7,158 152.4,156.8 162.7,164.5 175.6,172.2 193.5,164.5 200,158 211.5,156.8 209,167 220,174.7" />
<polyline fill="none" stroke="#9a9a9a" stroke-width="0.8" stroke-linejoin="round" points="209.7,156 206,166 211,173.5 221,174.7 226,181 223.5,188.5 227,193.5 233.5,196 238.5,193.5 243.5,186 242,181" />
<polyline fill="none" stroke="#9a9a9a" stroke-width="0.8" stroke-linejoin="round" points="199.6,256.2 198,261 204.4,262.6 207.7,267.4 214,270.6 218.9,273.8 219.7,278.7 216.5,285" />
<polyline fill="none" stroke="#9a9a9a" stroke-width="0.8" stroke-linejoin="round" points="284.7,139.9 282.8,144.7 279,158 276,169.7 273,173.6 270.3,176.5 268.4,181.3 283.8,184.2 298,182 310,176.5 320,175.5 329,178 336.8,180" />
<polyline fill="none" stroke="#9a9a9a" stroke-width="0.8" stroke-linejoin="round" points="329,183 326,191 329,200.6 334.8,208.3 335.8,214 333,217.9 330,225.6 329,230" />
<polyline fill="none" stroke="#9a9a9a" stroke-width="0.8" stroke-linejoin="round" points="243,89 243,74 241,65 242,57 242,44 237,39" />
<polyline fill="none" stroke="#9a9a9a" stroke-width="0.8" stroke-linejoin="round" points="308,203 312.4,210 308,220.6 305.3,231.2 306.2,240 308,248.9" />
<polyline fill="none" stroke="#d8c8c8" stroke-width="0.9" stroke-linejoin="round" points="273.5,300 272.6,290 273.5,275.3 278.8,269.2 287.7,271.8 296.5,278 301.8,275.3 308,271.8 313.3,259.4 313.3,250.6" />
<polyline fill="none" stroke="#e8d8d8" stroke-width="0.9" stroke-linejoin="round" points="250,308 244.1,323.4 236.4,341.4 230,356.8 223.5,364.5" />
<polyline fill="none" stroke="#9a9a9a" stroke-width="0.8" stroke-linejoin="round" points="521.4,126 521.4,130 522.8,143.7 524,154.6 522.8,176.4 524,181.9 522.8,194 511.9,203.7 501,209 494,220 489,227" />
<polyline fill="none" stroke="#9a9a9a" stroke-width="0.8" stroke-linejoin="round" points="450.5,184.6 484.6,181.9 520,180.5" />
<polyline fill="none" stroke="#9a9a9a" stroke-width="0.8" stroke-linejoin="round" points="522.8,194 528.2,203.7 533.7,211.9 547.3,213.2 550,217.3 555.5,216" />
<polyline fill="none" stroke="#9a9a9a" stroke-width="0.8" stroke-linejoin="round" points="430,161.4 438,171 450.5,184.6 461,190 465,209 461.4,217.3 460,226.9" />
<polyline fill="none" stroke="#9a9a9a" stroke-width="0.8" stroke-linejoin="round" points="481.8,241.9 498.2,241.9 511.9,239 522.8,236.4 531,239 539,244.6 541.9,236.4" />
<polyline fill="none" stroke="#9a9a9a" stroke-width="0.8" stroke-linejoin="round" points="459.3,260 458,275.4 477.3,279.3 478.6,290.8 477.3,312.6 474.7,320.4 478.6,337 486.3,339.6" />
<polyline fill="none" stroke="#9a9a9a" stroke-width="0.8" stroke-linejoin="round" points="415.7,306.2 420.8,315.2 435,317.8 436.2,332 441.4,337 442.6,344.7 441.4,355 428.5,370.4 400.3,374.3 393,373" />
<polyline fill="none" stroke="#9a9a9a" stroke-width="0.8" stroke-linejoin="round" points="441.4,355 451.6,360.2 460.6,366.6" />
<polyline fill="none" stroke="#9a9a9a" stroke-width="0.8" stroke-linejoin="round" points="375.3,155.5 365,158 358,163 354.4,171 349,177" />
<polyline fill="none" stroke="#9a9a9a" stroke-width="0.8" stroke-linejoin="round" points="393,157.6 388,163 384,170 382,186 381,196 384,203" />
<polyline fill="none" stroke="#9a9a9a" stroke-width="0.8" stroke-linejoin="round" points="393,162 410,162 425,165 434.8,167 436,180 440,195 452,205 465,209" />
<polyline fill="none" stroke="#d9b0b0" stroke-width="0.9" stroke-linejoin="round" points="342.2,360 350.5,355.7 355,353 360,354 364,357 366,365 372,370 382,371 392.3,373.5" />
<polyline fill="none" stroke="#9a9a9a" stroke-width="0.8" stroke-linejoin="round" points="324.4,379.7 342.2,377.6" />
<polyline fill="none" stroke="#9a9a9a" stroke-width="0.8" stroke-linejoin="round" points="324.4,379.7 321,395 320,410 322,425 320.8,431.5" />
<polyline fill="none" stroke="#9a9a9a" stroke-width="0.8" stroke-linejoin="round" points="278,434.5 313.2,433 316.2,437.6 322,452 327,457.4 340.6,460.5" />
<polyline fill="none" stroke="#9a9a9a" stroke-width="0.8" stroke-linejoin="round" points="296.4,414.7 311.7,413.2 313.2,431.5" />
<polyline fill="none" stroke="#9a9a9a" stroke-width="0.8" stroke-linejoin="round" points="393.3,354.7 396,340 395,330 391,322.5" />
<polyline fill="none" stroke="#9a9a9a" stroke-width="0.8" stroke-linejoin="round" points="402.7,374.5 407,383.9 410,397.5 411,404.8" />
<polyline fill="none" stroke="#9a9a9a" stroke-width="0.8" stroke-linejoin="round" points="183.5,474.5 186,482 196,474.5 206,473 226,474.5 231,482 238.5,489.5 243.5,499.5 248.5,514.5 251,529.5 252,539.5" />
<polyline fill="none" stroke="#9a9a9a" stroke-width="0.8" stroke-linejoin="round" points="196,474.5 206,487 212,499.5 216,512 216,529.5 211,542 206,547 216,564.5" />
<polyline fill="none" stroke="#9a9a9a" stroke-width="0.8" stroke-linejoin="round" points="181,557 186,555.7 198.5,559.5" />
<polyline fill="none" stroke="#9a9a9a" stroke-width="0.8" stroke-linejoin="round" points="223.5,564.5 219.7,579.5 201,597" />
<polyline fill="none" stroke="#9a9a9a" stroke-width="0.8" stroke-linejoin="round" points="219.7,579.5 232,584 243,582" />
<polyline fill="none" stroke="#9a9a9a" stroke-width="0.8" stroke-linejoin="round" points="241,355.7 239.7,369.5 248.5,374.5 256,379.5 266,392 273.5,404.5 277,407" />
<polyline fill="none" stroke="#9a9a9a" stroke-width="0.8" stroke-linejoin="round" points="214.3,408.9 220,416 224.7,426 227.8,442.8 237.4,454.3 251,462 262.5,465.9 277,459" />
<polyline fill="none" stroke="#9a9a9a" stroke-width="0.8" stroke-linejoin="round" points="227.8,442.8 208.5,458.2 207.6,465.9 206.6,474.5" />
<polyline fill="none" stroke="#9a9a9a" stroke-width="0.8" stroke-linejoin="round" points="186,432 186.4,448.5 189.3,465.9 193,473.6 206.6,474.5" />
<polyline fill="none" stroke="#9a9a9a" stroke-width="0.8" stroke-linejoin="round" points="137.2,439.5 140,447 146,452 155,452 160,460 165,465" />
<polyline fill="none" stroke="#9a9a9a" stroke-width="0.8" stroke-linejoin="round" points="180.8,428 178,440 172,450 170,460 169.3,465.2" />
<polyline fill="none" stroke="#9a9a9a" stroke-width="0.8" stroke-linejoin="round" points="127,537 127,520 131,508 137.2,506.3" />
<polyline fill="none" stroke="#8fa093" stroke-width="0.6" stroke-linejoin="round" points="75,446 85,450 92,447 100,452 108,449 114,443.4" />
<polyline fill="none" stroke="#8fa093" stroke-width="0.6" stroke-linejoin="round" points="67.4,456.2 80,460 90,458 98,464 108,462 115.3,452.4" />
<polyline fill="none" stroke="#8fa093" stroke-width="0.6" stroke-linejoin="round" points="64,470 75,474 85,471 95,476 106,473 118,478 125,474" />
<polyline fill="none" stroke="#8fa093" stroke-width="0.6" stroke-linejoin="round" points="61.4,485 72,488 84,485 96,490 110,487 118,489.6" />
<polyline fill="none" stroke="#8fa093" stroke-width="0.6" stroke-linejoin="round" points="90,436 92,447" />
<polyline fill="none" stroke="#8fa093" stroke-width="0.6" stroke-linejoin="round" points="100,452 98,464 95,476 96,490 93.5,501.2" />
<polyline fill="none" stroke="#8fa093" stroke-width="0.6" stroke-linejoin="round" points="85,450 80,460 75,474 72,488" />
<polyline fill="none" stroke="#8fa093" stroke-width="0.6" stroke-linejoin="round" points="108,449 108,462 106,473 110,487" />
<polyline fill="none" stroke="#8fa093" stroke-width="0.6" stroke-linejoin="round" points="120.5,460 118,465.2 118,478" />
<polyline fill="none" stroke="#8fa093" stroke-width="0.6" stroke-linejoin="round" points="134.6,471.6 132,480 128,490 128.2,496" />
<polyline fill="none" stroke="#8fa093" stroke-width="0.6" stroke-linejoin="round" points="146.2,476.8 140,485 142,495 148,505 153.9,517.9" />
<polyline fill="none" stroke="#8fa093" stroke-width="0.6" stroke-linejoin="round" points="160.3,476.8 165,485 171.8,494.7" />
<polyline fill="none" stroke="#8fa093" stroke-width="0.6" stroke-linejoin="round" points="150,485.8 152,495 160,500 166,505 174.4,499.9" />
<polygon fill="none" stroke="#5f5f5f" stroke-width="1" stroke-linejoin="round" points="141,36 144,36 156,34 166,31 167,25 175,18 181,19 188,25 196,31 206,30 216,26 223,30 231,30 233,25 241,31 248,30 256,31 266,39 276,41 286,50 296,62 303,72 308,80 317,86 320,94 312,100 307.8,110 306,112.9 302,117.7 300,123.5 298.2,129.3 300,131.2 300,138.9 307.8,138.9 317.5,137 325.2,135 333,136 337.7,136.7 339.8,131.5 332.5,143 329.4,149.2 330.4,156.5 335.7,164.9 343,173.2 349.2,182.6 358.6,191 372.2,199.3 389,204.6 407.7,210.8 428.6,217 446.4,222.8 460,226.9 484.6,228.2 489,227 471,247 459.3,260 441.4,278 423.4,296 409.3,310 404.8,315 399.6,320.2 390.2,322.3 379.8,322.3 369.3,322.3 358.9,323.4 348.5,326.5 340,332.7 334.9,339 325.5,342 317,344.2 308.8,349.4 302.5,350.5 290,351.5 288,353 278,347 270,343 256,349 242,354 238,360 233.8,360.6 228.7,363.2 218.4,364.5 200.4,363.2 185,358 167,345.2 154.2,337.5 124.7,337.5 118,331 118,312 115,308.5 101.5,308.5 96,298 95,281 94,273 86,270 77,263 65,252 60,242 50,237 37,235 34,231 37,223 40,216 47,215 62,215 67,211 67,182 67,168 72,163 72,156 75,148 82,142 91,140 94,127 99,111 105,102 114,89 122,86 130,80 134,65 136,46"/>
<polygon fill="none" stroke="#5f5f5f" stroke-width="1" stroke-linejoin="round" points="101.5,308.5 115,308.5 118,312 118,331 124.7,337.5 154.2,337.5 167,345.2 185,358 200.4,363.2 218.4,364.5 228.7,363.2 233.8,360.6 238,360 242,354 256,349 270,343 278,347 288,353 290,351.5 302.5,350.5 305.6,352.2 298,361.3 285.7,376.6 278,388.8 277.2,489.4 285.7,504.7 295,520 293,521 286,529 276,539 266,548 256,554 252,562 250,572 243,582 238,592 233,602 226,612 222,613 201,597 175,578 177,572 175.7,564 127,537 66.6,503.7 61.4,502.4 61.4,471.6 62.5,466.5 67.4,456.2 73.8,446.5 80.3,437 85,432.5 87.5,428.5 90.2,420.5 93,409.6 94,403 92,396 87,388 82,382 76,373 77,366 75,358 69,356 66,349 64,344 97,312"/>
<polyline fill="none" stroke="#5f5f5f" stroke-width="1" stroke-linejoin="round" points="75,331 118,331" />
<polyline fill="none" stroke="#6a8a9a" stroke-width="0.7" stroke-linejoin="round" points="127.5,337.5 127.5,350 129,365 134,375" />
<polyline fill="none" stroke="#5f5f5f" stroke-width="1" stroke-linejoin="round" points="339.8,131.5 346.5,123.5" />
<polyline fill="none" stroke="#5f5f5f" stroke-width="1" stroke-linejoin="round" points="300,138.9 307.8,138.9 317.5,137 325.2,135 333,136 337.7,136.7" />
<polyline fill="none" stroke="#7a6a5a" stroke-width="0.7" stroke-linejoin="round" points="347.4,123.5 349.8,124.3 353,125 355.4,130.7 358.6,137 361.8,142 365.8,146 370.6,150 377,154 383.5,155.6 390,156 394.7,154.8 405.6,151.3 414,147 420.2,143 426.5,142 432.7,145 441,145.5 447,146 454.4,142 462,138.5 469,135 477,132.5 484.6,131.4 500,128.5 510.6,127.7 522,128.5 533.5,125 544,123.2 553,121.5 561.8,118 568,112.7 570.6,109 576,107.4 583,109 591,111.8 588.3,119.7 586.5,130.3 587.4,135.6 585.6,141 586.5,148 588.3,151.5 594.5,153.3 594.5,156 588.3,155 583,156 580.3,158.6 579.4,165.6 578.6,172.7 577.7,179.7 576,186.8 572.4,193.9 568,201 561,209 555.5,217.3 547.3,225.5 541.9,236.4 540.5,247.3 536,255 533,260 529,265.3 526.5,270.4 524.6,275.5 524,280.7 521.3,287 517.5,293.5 512.4,301.2 507.2,309 502,318 497.6,325.6 492.5,335 485,341.7 479.2,349 473.5,356 467.7,362 462,367 456,373.5 449,380.7 441.7,388 434.5,395 427.2,401 420.8,406.4 413,417.3 403.8,423.6 394.4,428.8 384,436 373.5,442.3 365,448 354.4,451.3 343.7,462 331.5,474.2 320.8,486.4 313.2,495.5 305.6,506.2 299.5,515.4 295,520" />
<polyline fill="none" stroke="#7a7a6a" stroke-width="0.7" stroke-linejoin="round" points="295,520 293,521 286,529 276,539 266,548 256,554 252,562 250,572 243,582 238,592 233,602 226,612 222,613 222,623" />
<ellipse cx="354.5" cy="221.5" rx="2.2" ry="1.4" fill="#fbf3e6"/>
<ellipse cx="377.5" cy="267" rx="2.2" ry="1.4" fill="#fbf3e6"/>
<ellipse cx="355" cy="291" rx="2.2" ry="1.4" fill="#fbf3e6"/>
<ellipse cx="281" cy="113" rx="2.2" ry="1.4" fill="#fbf3e6"/>
<ellipse cx="269" cy="112" rx="2.2" ry="1.4" fill="#fbf3e6"/>
<rect x="523.0" y="124.3" width="10.4" height="10.4" fill="#e67800" stroke="#000" stroke-width="2"/>
<rect x="394.6" y="148.6" width="10.4" height="10.4" fill="#e67800" stroke="#000" stroke-width="2"/>
<rect x="367.6" y="171.8" width="10.4" height="10.4" fill="#e67800" stroke="#000" stroke-width="2"/>
<rect x="411.1" y="176.8" width="10.4" height="10.4" fill="#e67800" stroke="#000" stroke-width="2"/>
<rect x="518.8" y="177.5" width="10.4" height="10.4" fill="#e67800" stroke="#000" stroke-width="2"/>
<rect x="466.0" y="209.0" width="10.4" height="10.4" fill="#e67800" stroke="#000" stroke-width="2"/>
<rect x="500.8" y="210.5" width="10.4" height="10.4" fill="#c80000" stroke="#000" stroke-width="2"/>
<rect x="468.8" y="261.8" width="10.4" height="10.4" fill="#e67800" stroke="#000" stroke-width="2"/>
<rect x="436.2" y="298.5" width="10.4" height="10.4" fill="#e67800" stroke="#000" stroke-width="2"/>
<rect x="400.8" y="322.8" width="10.4" height="10.4" fill="#e67800" stroke="#000" stroke-width="2"/>
<rect x="359.4" y="338.5" width="10.4" height="10.4" fill="#e67800" stroke="#000" stroke-width="2"/>
<rect x="305.2" y="340.6" width="10.4" height="10.4" fill="#e67800" stroke="#000" stroke-width="2"/>
<rect x="353.2" y="373.0" width="10.4" height="10.4" fill="#c80000" stroke="#000" stroke-width="2"/>
<rect x="410.5" y="382.8" width="10.4" height="10.4" fill="#e67800" stroke="#000" stroke-width="2"/>
<rect x="404.2" y="405.1" width="10.4" height="10.4" fill="#c80000" stroke="#000" stroke-width="2"/>
<rect x="311.3" y="438.0" width="10.4" height="10.4" fill="#e67800" stroke="#000" stroke-width="2"/>
<rect x="317.8" y="477.2" width="10.4" height="10.4" fill="#e67800" stroke="#000" stroke-width="2"/>
<rect x="251.3" y="464.3" width="10.4" height="10.4" fill="#fbe524" stroke="#000" stroke-width="2"/>
<rect x="84.8" y="354.5" width="10.4" height="10.4" fill="#fbe524" stroke="#000" stroke-width="2"/>
<text x="188.5" y="21" font-size="12" fill="#6e6e6e" textLength="42.5" lengthAdjust="spacingAndGlyphs" >ERITREA</text>
<text x="47" y="70.3" font-size="12" fill="#6e6e6e" textLength="34.5" lengthAdjust="spacingAndGlyphs" >SUDAN</text>
<text x="416" y="35.7" font-size="12" fill="#6e6e6e" textLength="33.5" lengthAdjust="spacingAndGlyphs" >YEMEN</text>
<text x="301" y="110.3" font-size="12" fill="#6e6e6e" textLength="43.5" lengthAdjust="spacingAndGlyphs" >DJIBOUTI</text>
<text x="4" y="277" font-size="12" fill="#6e6e6e" textLength="71.5" lengthAdjust="spacingAndGlyphs" >SOUTH SUDAN</text>
<text x="25" y="414.3" font-size="12" fill="#6e6e6e" textLength="42.5" lengthAdjust="spacingAndGlyphs" >UGANDA</text>
<text x="62.5" y="571.7" font-size="12" fill="#6e6e6e" textLength="47.5" lengthAdjust="spacingAndGlyphs" >TANZANIA</text>
<text x="415" y="111" font-size="10.5" fill="#2b2b3a" font-style="italic" textLength="55" lengthAdjust="spacingAndGlyphs" >Gulf of Aden</text>
<text x="505.5" y="384" font-size="10.5" fill="#2b2b3a" font-style="italic" textLength="59.5" lengthAdjust="spacingAndGlyphs" >Indian Ocean</text>
<text x="212" y="192" font-size="12" fill="#111" font-style="italic" textLength="60" lengthAdjust="spacingAndGlyphs" stroke="#fff" stroke-width="2.2" stroke-linejoin="round" paint-order="stroke" >Addis Ababa</text>
<text x="207" y="213.6" font-size="11.5" fill="#000" font-weight="bold" textLength="45" lengthAdjust="spacingAndGlyphs" stroke="#fff" stroke-width="2.2" stroke-linejoin="round" paint-order="stroke" >Ethiopia</text>
<text x="450.3" y="299" font-size="11.5" fill="#000" font-weight="bold" textLength="45" lengthAdjust="spacingAndGlyphs" stroke="#fff" stroke-width="2.2" stroke-linejoin="round" paint-order="stroke" >Somalia</text>
<text x="160.5" y="458.4" font-size="11.5" fill="#000" font-weight="bold" textLength="33" lengthAdjust="spacingAndGlyphs" stroke="#fff" stroke-width="2.2" stroke-linejoin="round" paint-order="stroke" >Kenya</text>
<text x="155.5" y="506.5" font-size="12" fill="#111" font-style="italic" textLength="34.5" lengthAdjust="spacingAndGlyphs" stroke="#fff" stroke-width="2.2" stroke-linejoin="round" paint-order="stroke" >Nairobi</text>
<text x="349.5" y="425" font-size="12" fill="#111" font-style="italic" textLength="56.5" lengthAdjust="spacingAndGlyphs" stroke="#fff" stroke-width="2.2" stroke-linejoin="round" paint-order="stroke" >Mogadishu</text>
<circle cx="207" cy="197" r="5.1" fill="#fff"/><circle cx="207" cy="197" r="4.2" fill="#000"/>
<polygon fill="#fff" points="207.00,193.50 207.85,195.83 210.33,195.92 208.38,197.45 209.06,199.83 207.00,198.45 204.94,199.83 205.62,197.45 203.67,195.92 206.15,195.83"/>
<circle cx="149.5" cy="512" r="5.1" fill="#fff"/><circle cx="149.5" cy="512" r="4.2" fill="#000"/>
<polygon fill="#fff" points="149.50,508.50 150.35,510.83 152.83,510.92 150.88,512.45 151.56,514.83 149.50,513.45 147.44,514.83 148.12,512.45 146.17,510.92 148.65,510.83"/>
<g fill="none" stroke-linecap="round"><path d="M9.6,5.2 L10,37.3" stroke="#777" stroke-width="1.5"/><path d="M9.6,5.2 L15.1,18.6 L10,16.4" stroke="#111" stroke-width="1"/><path d="M7.2,35.3 L7.2,27.5 L12.8,34.7 L12.8,27.6" stroke="#111" stroke-width="1.1"/></g>
<rect x="13" y="602" width="138.5" height="5.5" fill="#000"/>
<rect x="48.5" y="603.6" width="32.5" height="2.4" fill="#fff"/>
<text x="13" y="618.3" font-size="8.5" fill="#222" text-anchor="middle" >0</text>
<text x="47.5" y="618.3" font-size="8.5" fill="#222" text-anchor="middle" >125</text>
<text x="82.5" y="618.3" font-size="8.5" fill="#222" text-anchor="middle" >250</text>
<text x="151" y="618.3" font-size="8.5" fill="#222" text-anchor="middle" >500</text>
<text x="153.5" y="608.3" font-size="8.5" fill="#222" textLength="40" lengthAdjust="spacingAndGlyphs" >Kilometers</text>
<rect x="353" y="499.5" width="257" height="92.7" fill="#fff"/>
<rect x="353" y="499.5" width="6" height="92.7" fill="#f4f5f9"/>
<rect x="605.5" y="499.5" width="4.5" height="92.7" fill="#f4f5f9"/>
<text x="363.5" y="515.2" font-size="11" fill="#1f1f1f" font-weight="bold" textLength="182.5" lengthAdjust="spacingAndGlyphs" >IPC v3.1 Acute Food Insecurity Phase</text>
<rect x="363.6" y="519.9" width="16.8" height="12.4" fill="#d9f2da" stroke="#d2d2d2" stroke-width="0.6"/>
<text x="387.2" y="528.9" font-size="10" fill="#3a3a3a" textLength="38" lengthAdjust="spacingAndGlyphs" >1: Minimal</text>
<rect x="435.3" y="519.9" width="16.8" height="12.4" fill="#fbe524" stroke="#d2d2d2" stroke-width="0.6"/>
<text x="458.5" y="528.9" font-size="10" fill="#3a3a3a" textLength="42.5" lengthAdjust="spacingAndGlyphs" >2: Stressed</text>
<rect x="511" y="519.9" width="16.8" height="12.4" fill="#e67800" stroke="#d2d2d2" stroke-width="0.6"/>
<text x="534" y="528.9" font-size="10" fill="#3a3a3a" textLength="29" lengthAdjust="spacingAndGlyphs" >3: Crisis</text>
<rect x="363.6" y="536.5" width="16.8" height="12.4" fill="#c80000" stroke="#d2d2d2" stroke-width="0.6"/>
<text x="387.2" y="545.5" font-size="10" fill="#3a3a3a" textLength="50.5" lengthAdjust="spacingAndGlyphs" >4: Emergency</text>
<rect x="447.7" y="536.5" width="16.8" height="12.4" fill="#640000" stroke="#d2d2d2" stroke-width="0.6"/>
<text x="471" y="545.5" font-size="10" fill="#3a3a3a" textLength="36" lengthAdjust="spacingAndGlyphs" >5: Famine</text>
<text x="371.8" y="569.8" font-size="24.3" fill="#000" font-weight="bold" text-anchor="middle" stroke="#000" stroke-width="0.8">!</text>
<text x="363.5" y="578.3" font-size="8.3" fill="#2a2a2a" font-style="italic" textLength="205.5" lengthAdjust="spacingAndGlyphs" >Would likely be at least one phase worse without current or</text>
<text x="363.5" y="588" font-size="8.3" fill="#2a2a2a" font-style="italic" textLength="133.5" lengthAdjust="spacingAndGlyphs" >programmed humanitarian assistance</text>
</svg>
</body></html>
